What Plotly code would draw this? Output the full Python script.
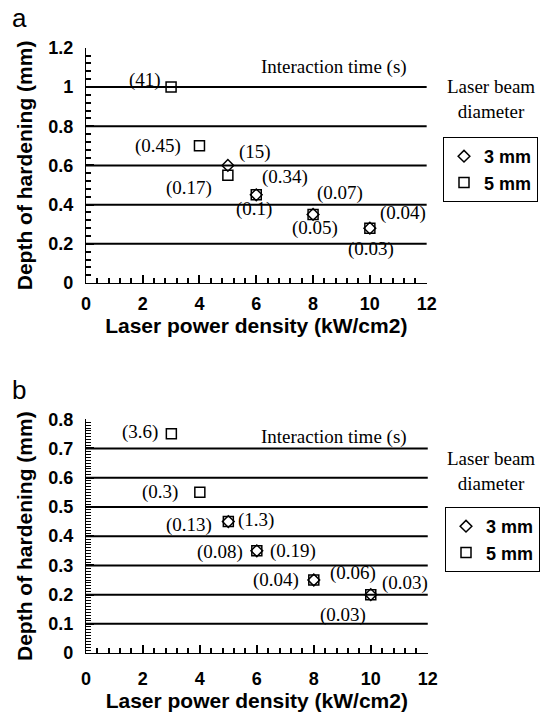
import plotly.graph_objects as go
from plotly.subplots import make_subplots

# ---------------- data ----------------
# Panel a
a_x_3mm = [5, 6, 8, 10]
a_y_3mm = [0.6, 0.45, 0.35, 0.28]
a_lab_3mm = ["(15)", "(0.34)", "(0.07)", "(0.04)"]

a_x_5mm = [3, 4, 5, 6, 8, 10]
a_y_5mm = [1.0, 0.7, 0.55, 0.45, 0.35, 0.28]
a_lab_5mm = ["(41)", "(0.45)", "(0.17)", "(0.1)", "(0.05)", "(0.03)"]

# Panel b
b_x_3mm = [5, 6, 8, 10]
b_y_3mm = [0.45, 0.35, 0.25, 0.2]
b_lab_3mm = ["(1.3)", "(0.19)", "(0.06)", "(0.03)"]

b_x_5mm = [3, 4, 5, 6, 8, 10]
b_y_5mm = [0.75, 0.55, 0.45, 0.35, 0.25, 0.2]
b_lab_5mm = ["(3.6)", "(0.3)", "(0.13)", "(0.08)", "(0.04)", "(0.03)"]

a_grid = [0.2, 0.4, 0.6, 0.8, 1.0]
b_grid = [0.1, 0.2, 0.3, 0.4, 0.5, 0.6, 0.7]

# label placement (anchor, xshift px, yshift px)
a_pos_3mm = [("left", 9, 13), ("left", 4, 18), ("left", 2, 21), ("left", 8, 15)]
a_pos_5mm = [("right", -8, 7), ("right", -16, 0), ("right", -14, -13),
             ("center", -2, -14), ("center", 2, -14), ("center", 1, -21)]
b_pos_3mm = [("left", 8, 2), ("left", 11, 0), ("left", 14, 7), ("left", 9, 12)]
b_pos_5mm = [("right", -11, 2), ("right", -20, 0), ("right", -14, -3),
             ("right", -12, -1), ("right", -13, 0), ("right", -3, -20)]

# ---------------- figure ----------------
fig = make_subplots(rows=2, cols=1)

SANS = "Liberation Sans"
SERIF = "Liberation Serif"

def add_panel(row, xs3, ys3, xs5, ys5, legend):
    fig.add_trace(go.Scatter(
        x=xs3, y=ys3, mode="markers", name="3 mm", legend=legend,
        marker=dict(symbol="diamond-open", size=9, color="black",
                    line=dict(width=1.5, color="black"))), row=row, col=1)
    fig.add_trace(go.Scatter(
        x=xs5, y=ys5, mode="markers", name="5 mm", legend=legend,
        marker=dict(symbol="square-open", size=10, color="black",
                    line=dict(width=1.5, color="black"))), row=row, col=1)

add_panel(1, a_x_3mm, a_y_3mm, a_x_5mm, a_y_5mm, "legend")
add_panel(2, b_x_3mm, b_y_3mm, b_x_5mm, b_y_5mm, "legend2")

def add_labels(xref, yref, xs, ys, labs, pos):
    for x, y, t, (anc, dx, dy) in zip(xs, ys, labs, pos):
        fig.add_annotation(x=x, y=y, xref=xref, yref=yref, text=t,
                           showarrow=False, xanchor=anc, yanchor="middle",
                           xshift=dx, yshift=dy,
                           font=dict(family=SERIF, size=19, color="black"))

add_labels("x", "y", a_x_3mm, a_y_3mm, a_lab_3mm, a_pos_3mm)
add_labels("x", "y", a_x_5mm, a_y_5mm, a_lab_5mm, a_pos_5mm)
add_labels("x2", "y2", b_x_3mm, b_y_3mm, b_lab_3mm, b_pos_3mm)
add_labels("x2", "y2", b_x_5mm, b_y_5mm, b_lab_5mm, b_pos_5mm)

# horizontal grid lines
for yv in a_grid:
    fig.add_shape(type="line", xref="x domain", yref="y", x0=0, x1=1, y0=yv, y1=yv,
                  line=dict(color="black", width=2), layer="below")
for yv in b_grid:
    fig.add_shape(type="line", xref="x2 domain", yref="y2", x0=0, x1=1, y0=yv, y1=yv,
                  line=dict(color="black", width=2), layer="below")

xaxis_common = dict(
    range=[0, 12], dtick=2,
    showgrid=False, zeroline=False, automargin=False,
    showline=True, linecolor="black",
    ticks="inside", ticklen=8, tickwidth=2, tickcolor="black",
    minor=dict(dtick=0.4, ticks="inside", ticklen=5, tickwidth=1.5, tickcolor="black"),
    tickprefix="<b>", ticksuffix="</b>",
    tickfont=dict(family=SANS, size=18, color="black"),
    title=dict(text="<b>Laser power density (kW/cm2)</b>",
               font=dict(family=SANS, size=21, color="black"), standoff=3),
)
yaxis_common = dict(
    automargin=False,
    showgrid=False, zeroline=False, showline=True, linecolor="black",
    ticks="inside", ticklen=8, tickwidth=2, tickcolor="black",
    tickprefix="<b>", ticksuffix="</b>",
    tickfont=dict(family=SANS, size=18, color="black"),
    ticklabelstandoff=8,
    title=dict(text="<b>Depth of hardening (mm)</b>",
               font=dict(family=SANS, size=21, color="black"), standoff=9),
)

fig.update_xaxes(**xaxis_common)
fig.update_yaxes(**yaxis_common)
fig.update_xaxes(domain=[0.157, 0.780], ticklabelstandoff=4, row=1, col=1)
fig.update_xaxes(domain=[0.157, 0.782], ticklabelstandoff=9, row=2, col=1)
fig.update_yaxes(domain=[0.603, 0.933], range=[0, 1.2], dtick=0.2,
                 minor=dict(dtick=0.04, ticks="inside", ticklen=5, tickwidth=1.5,
                            tickcolor="black"),
                 row=1, col=1)
fig.update_yaxes(domain=[0.084, 0.412], range=[0, 0.8], dtick=0.1,
                 minor=dict(dtick=0.01, ticks="inside", ticklen=5, tickwidth=1.2,
                            tickcolor="black"),
                 row=2, col=1)

# texts
for yp, txt in [(67, "Interaction time (s)"), (437, "Interaction time (s)")]:
    fig.add_annotation(x=334 / 547, y=1 - yp / 713, xref="paper", yref="paper",
                       text=txt, showarrow=False, xanchor="center", yanchor="middle",
                       font=dict(family=SERIF, size=19, color="black"))
for yp in [99, 471]:
    fig.add_annotation(x=491 / 547, y=1 - yp / 713, xref="paper", yref="paper",
                       text="Laser beam<br>diameter", showarrow=False,
                       xanchor="center", yanchor="middle", align="center",
                       font=dict(family=SERIF, size=19, color="black"))
for yp, letter in [(18, "a"), (390, "b")]:
    fig.add_annotation(x=10 / 547, y=1 - yp / 713, xref="paper", yref="paper",
                       text=letter, showarrow=False, xanchor="left", yanchor="middle",
                       font=dict(family=SANS, size=26, color="black"))

legend_common = dict(
    bgcolor="white", bordercolor="black", borderwidth=1,
    font=dict(family=SANS, size=18, color="black", weight="bold"),
    itemwidth=30, tracegroupgap=0, xanchor="left", yanchor="top",
)
fig.update_layout(
    width=547, height=713,
    margin=dict(l=0, r=0, t=0, b=0, autoexpand=False),
    paper_bgcolor="white", plot_bgcolor="white",
    showlegend=True,
    legend=dict(x=443 / 547, y=1 - 137 / 713, **legend_common),
    legend2=dict(x=445 / 547, y=1 - 507 / 713, **legend_common),
)

fig.write_html("out.html")
